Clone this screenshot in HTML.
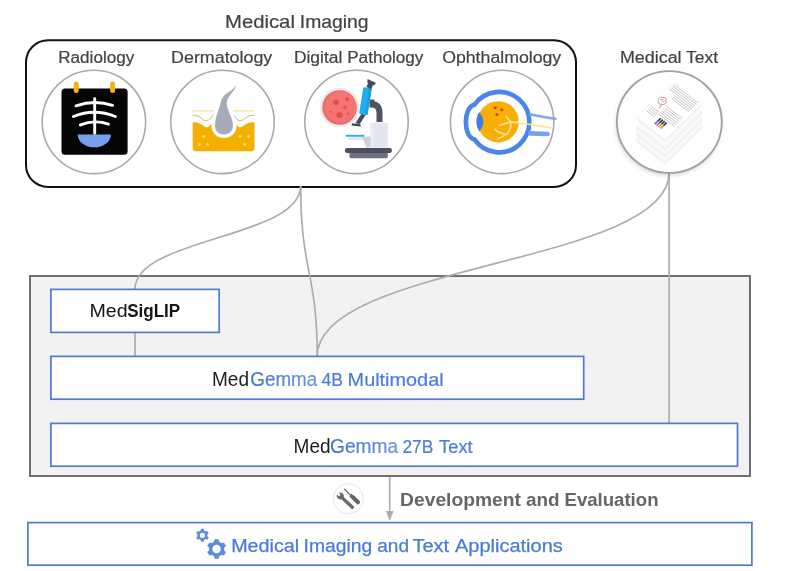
<!DOCTYPE html>
<html><head><meta charset="utf-8"><style>
html,body{margin:0;padding:0;background:#fff;width:796px;height:571px;overflow:hidden}
svg{display:block;will-change:transform}
text{font-family:"Liberation Sans",sans-serif}
</style></head><body>
<svg width="796" height="571" viewBox="0 0 796 571">
<defs>
<linearGradient id="gm1" gradientUnits="userSpaceOnUse" x1="251" y1="0" x2="318" y2="0"><stop offset="0" stop-color="#4670dc"/><stop offset="1" stop-color="#6e9bd6"/></linearGradient>
<linearGradient id="gm2" gradientUnits="userSpaceOnUse" x1="332" y1="0" x2="398" y2="0"><stop offset="0" stop-color="#4670dc"/><stop offset="1" stop-color="#6e9bd6"/></linearGradient>
<filter id="sh" x="-20%" y="-20%" width="140%" height="140%"><feGaussianBlur stdDeviation="2.2"/></filter>
</defs>
<!-- gray container -->
<rect x="30" y="276" width="720" height="200" fill="#f2f2f2" stroke="#686868" stroke-width="1.9"/>
<!-- big imaging box -->
<rect x="26" y="40.3" width="550" height="146.7" rx="22" ry="22" fill="none" stroke="#111" stroke-width="2"/>
<!-- connectors -->
<g fill="none" stroke="#adadad" stroke-width="1.7">
<path d="M300.7 186 C300.7 238 135 238 135 289"/>
<path d="M300.7 186 C300.7 272 317.2 272 317.2 356"/>
<path d="M669.1 173 C669.1 264 317.2 264 317.2 356"/>
<path d="M669.1 173 L669.1 423"/>
<path d="M135 333 L135 356"/>
<path d="M389.7 477 L389.7 513"/>
</g>
<path d="M385.8 511 L393.6 511 L389.7 521 Z" fill="#adadad"/>
<!-- blue boxes -->
<g fill="#fff" stroke="#5079d0" stroke-width="1.7">
<rect x="50.9" y="289.4" width="168.3" height="43"/>
<rect x="50.9" y="356.4" width="532.8" height="42.8"/>
<rect x="50.9" y="423.4" width="686.6" height="42.8"/>
<rect x="27.9" y="522.6" width="724" height="42.6"/>
</g>
<!-- circles -->
<g fill="#fff" stroke="#a9a9a9" stroke-width="1.6">
<circle cx="93.9" cy="121.9" r="51.7"/>
<circle cx="222.5" cy="121.9" r="51.7"/>
<circle cx="356.5" cy="121.9" r="51.7"/>
<circle cx="502.1" cy="121.9" r="51.7"/>
</g>
<ellipse cx="668.5" cy="124.5" rx="53" ry="51.5" fill="#000" opacity="0.13" filter="url(#sh)"/>
<ellipse cx="669.35" cy="122" rx="52.45" ry="50.9" fill="#fefefe" stroke="#a2a2a2" stroke-width="1.9"/>
<circle cx="348.3" cy="498.6" r="15" fill="#fff" stroke="#e6e6e6" stroke-width="1"/>

<!-- radiology icon -->
<g>
<rect x="61.5" y="88.5" width="66.1" height="66.2" rx="3.5" fill="#050505"/>
<rect x="73.7" y="81.5" width="5" height="11.5" rx="2.5" fill="#f2b10e"/>
<rect x="110.1" y="81.5" width="5" height="11.5" rx="2.5" fill="#f2b10e"/>
<path d="M77.7 134.4 L110.9 134.4 C110.9 142 103 147.3 94.3 147.3 C85.6 147.3 77.7 142 77.7 134.4 Z" fill="#76a1ee"/>
<g fill="none" stroke="#fff" stroke-width="2.9" stroke-linecap="round">
<path d="M94.7 98.8 L94.7 133.3"/>
<path d="M76 105.8 Q94.5 99.6 112.6 105.3"/>
<path d="M73.4 116.5 Q94.5 108 115.4 116.5"/>
<path d="M80.4 124.9 Q94.5 119.3 108.4 124.2"/>
</g>
</g>

<!-- dermatology icon -->
<g>
<path d="M192.7 122.4 Q199 122 205.3 127.1 Q208 128 211 124.5 L236 124.5 Q239 128 241.5 127.1 Q247.5 122 254.5 122.4 L254.5 148 Q254.5 151.2 251.3 151.2 L195.9 151.2 Q192.7 151.2 192.7 148 Z" fill="#f4b000"/>
<path d="M192.6 110.8 L214 110.8 M233 110.8 L254.6 110.8" stroke="#f0e2a4" stroke-width="1.2" fill="none"/>
<path d="M192.6 115.4 Q198 114.5 204.1 120.4 Q208.5 122.5 213.6 114.2 M233 114.2 Q238 122.5 242.5 120.4 Q248.5 114.5 254.6 115.4" stroke="#cfbb5a" stroke-width="1" fill="none"/>
<path d="M235.5 85 C234.5 88.5 231 90.5 228 92.5 C224 95 221.5 98 220.5 103 C219 110 215 117 215 126 C215 131 219 134.5 224 134.5 C229 134.5 233 131 233 126 C233 118 227.3 111 226.8 104 C226.6 99 230 95 233 91.5 C234.8 89.5 235.8 87 235.5 85 Z" fill="#a8acb9" stroke="#fff" stroke-width="7" stroke-linejoin="round" paint-order="stroke"/>
<g fill="#fbd877">
<circle cx="203.7" cy="136.6" r="1.5"/><circle cx="199.3" cy="144.5" r="1.5"/><circle cx="207.7" cy="144.5" r="1.5"/>
<circle cx="240.2" cy="136.6" r="1.5"/><circle cx="248.6" cy="136.6" r="1.5"/><circle cx="244.6" cy="144.5" r="1.5"/>
</g>
</g>

<!-- pathology icon -->
<g>
<circle cx="339.6" cy="107.5" r="19.8" fill="#e4eaee"/>
<circle cx="339.6" cy="107.5" r="17.3" fill="#ef6868"/>
<circle cx="340.4" cy="106.8" r="15.8" fill="#f37472"/>
<g fill="#e04f52">
<circle cx="336" cy="102.4" r="2.8"/><circle cx="347.2" cy="98.9" r="2"/><circle cx="345.1" cy="107.3" r="1.8"/>
<circle cx="339.5" cy="115" r="3"/><circle cx="348.3" cy="113.6" r="1.2"/><circle cx="330.4" cy="111.5" r="1"/>
</g>
<!-- body -->
<rect x="370.6" y="122.8" width="17.2" height="24.8" fill="#e4e5f1"/>
<rect x="370.6" y="122.8" width="3" height="24.8" fill="#eaebf5"/>
<path d="M361.8 136.6 L370.6 136.6 L370.6 147.5 L366.4 147.5 Z" fill="#cfd0da"/>
<rect x="348.2" y="136.6" width="14" height="3.5" fill="#e6e7ee"/>
<rect x="345.8" y="134.8" width="18.5" height="1.9" fill="#29b0e8"/>
<!-- base -->
<path d="M349.5 152 L387.8 152 L387.8 156.7 Q387.8 158.2 386.3 158.2 L351 158.2 Q349.5 158.2 349.5 156.7 Z" fill="#6d7080"/>
<rect x="344.9" y="148" width="47" height="4.9" rx="2.2" fill="#4b4f5e"/>
<!-- arm -->
<rect x="369.5" y="99.5" width="5" height="8" fill="#4d5160"/>
<path d="M371 104 Q379.5 104 379.5 113 L379.5 122" fill="none" stroke="#50535f" stroke-width="6"/>
<!-- objective -->
<path d="M361.6 113.5 L365.6 115 L359.5 124.5 L355.5 123 Z" fill="#494d5a"/>
<path d="M352 123.2 L360.8 124.6 L360.3 126.6 L351.6 125.4 Z" fill="#3e4250"/>
<!-- tube -->
<g transform="rotate(9 365.4 101.2)">
<rect x="361.2" y="87.6" width="8.4" height="27" rx="1.2" fill="#1eaef0"/>
<rect x="367.3" y="87.6" width="2.3" height="27" fill="#1a9ddc"/>
</g>
<g transform="rotate(24 370.5 84)">
<rect x="368" y="83" width="5.2" height="5.5" fill="#474b57"/>
<path d="M365.8 80.7 L375.2 80.7 L374 84 L367 84 Z" fill="#474b57"/>
</g>
</g>

<!-- ophthalmology icon -->
<g>
<circle cx="498.2" cy="121.8" r="20.6" fill="#f8ae06"/>
<path d="M479.3 112 Q487.5 121.8 479.3 131.6 Q476.4 127.5 476.4 121.8 Q476.4 116 479.3 112 Z" fill="#437be0"/>
<path d="M474.4 104.8 A30.2 30.2 0 1 1 474.4 139.4 C463 137 463 107.2 474.4 104.8 Z" fill="none" stroke="#4a86e8" stroke-width="4.6"/>
<path d="M530 114.3 Q545 117.5 555.4 118.8" fill="none" stroke="#7ea6ea" stroke-width="2.6" stroke-linecap="round"/>
<path d="M530 133.4 L547.5 134" fill="none" stroke="#7aa3ec" stroke-width="4.7" stroke-linecap="round"/>
<g fill="none" stroke="#fbe38f" stroke-width="1.6" stroke-linecap="round">
<path d="M510.9 122.2 Q531 124 550.8 127.8"/>
<path d="M510.9 122.2 L518.6 121.8"/>
<path d="M510.9 122.2 Q508 119 506 116.2"/>
<path d="M510.9 122.2 Q505 123 499.7 125.3"/>
<path d="M510.9 122.2 Q511 129 508.8 131.6 Q506.5 135 498.3 138.6"/>
<path d="M494.8 129.2 Q499 133.5 507.4 134.4"/>
</g>
<g fill="#c94c16">
<circle cx="495.2" cy="107.8" r="1.5"/><circle cx="501.8" cy="109.8" r="1.5"/><circle cx="496.9" cy="114.5" r="1.5"/>
</g>
</g>

<!-- medical text icon -->
<g>
<polygon points="673.3,103.5 701.8,125.5 701.8,128.5 665.2,164.4 636.7,142.4 636.7,139.4" fill="#f3f3f3" stroke="#efefef" stroke-width="0.5"/>
<polygon points="673.3,103.5 701.8,125.5 665.2,161.4 636.7,139.4" fill="#fafafa" stroke="#f1f1f1" stroke-width="0.4"/>
<polygon points="673.3,96.5 701.8,118.5 701.8,121.5 665.2,157.4 636.7,135.4 636.7,132.4" fill="#f3f3f3" stroke="#efefef" stroke-width="0.5"/>
<polygon points="673.3,96.5 701.8,118.5 665.2,154.4 636.7,132.4" fill="#fafafa" stroke="#f1f1f1" stroke-width="0.4"/>
<polygon points="673.3,89.5 701.8,111.5 701.8,114.5 665.2,150.4 636.7,128.4 636.7,125.4" fill="#f3f3f3" stroke="#efefef" stroke-width="0.5"/>
<polygon points="673.3,89.5 701.8,111.5 665.2,147.4 636.7,125.4" fill="#fafafa" stroke="#f1f1f1" stroke-width="0.4"/>
<polygon points="673.3,81.5 701.8,103.5 701.8,106.0 665.2,141.9 636.7,119.9 636.7,117.4" fill="#f2f2f2"/>
<polygon points="673.3,81.5 701.8,103.5 665.2,139.4 636.7,117.4" fill="#fff" stroke="#f0f0f0" stroke-width="0.5"/>
<path d="M673.9,84.4 L698.0,103.1 M672.4,85.9 L696.5,104.5 M670.9,87.4 L695.0,106.0 M669.4,88.8 L693.5,107.5 M674.6,95.5 L692.0,108.9 M673.1,97.0 L690.5,110.4 M671.6,98.4 L689.0,111.9 M666.5,106.2 L682.3,118.5 M664.9,107.8 L680.7,120.0 M663.3,109.3 L679.2,121.5 M661.7,110.9 L677.6,123.1 M660.2,112.4 L676.0,124.6 M658.6,113.9 L674.4,126.2 M651.4,106.5 L659.3,112.6 M649.9,107.9 L657.8,114.1 M648.4,109.4 L656.3,115.5 M646.9,110.9 L654.8,117.0" stroke="#959595" stroke-width="0.55" fill="none"/>
<g fill="none" stroke="#e58585" stroke-width="1"><path d="M658.3 101.5 C657.5 98 661 96.5 662.5 97.8 C664.5 96.5 667 98.5 665.8 100.8 C667 103 664 105.5 661.8 104.2 L659.2 108.3 M658.3 101.5 C658 103.5 660 104.8 661.8 104.2 M660.5 99.5 q1.5 1.2 3 0 M662.5 101.5 q1 1 2 0"/></g>
<path d="M660.8,118.2 L657.6,121.3" stroke="#2b2d3a" stroke-width="1.6"/>
<path d="M657.6,121.3 L654.8,124.1" stroke="#3f74c8" stroke-width="1.6"/>
<path d="M662.8,119.7 L659.5,122.8" stroke="#2b2d3a" stroke-width="1.6"/>
<path d="M659.5,122.8 L656.7,125.6" stroke="#8a6ec0" stroke-width="1.6"/>
<path d="M664.7,121.1 L661.5,124.3" stroke="#2b2d3a" stroke-width="1.6"/>
<path d="M661.5,124.3 L658.6,127.1" stroke="#e8923c" stroke-width="1.6"/>
<path d="M666.6,122.6 L663.4,125.8" stroke="#2b2d3a" stroke-width="1.6"/>
<path d="M663.4,125.8 L660.6,128.6" stroke="#e8923c" stroke-width="1.6"/>
</g>

<!-- gears -->
<path d="M200.77,530.57 L201.03,528.84 L203.77,528.84 L204.03,530.57 L204.47,530.75 L204.90,530.97 L205.30,531.23 L205.68,531.53 L207.30,530.88 L208.68,533.26 L207.31,534.35 L207.38,534.82 L207.40,535.30 L207.38,535.78 L207.31,536.25 L208.68,537.34 L207.30,539.72 L205.68,539.07 L205.30,539.37 L204.90,539.63 L204.47,539.85 L204.03,540.03 L203.77,541.76 L201.03,541.76 L200.77,540.03 L200.33,539.85 L199.90,539.63 L199.50,539.37 L199.12,539.07 L197.50,539.72 L196.12,537.34 L197.49,536.25 L197.42,535.78 L197.40,535.30 L197.42,534.82 L197.49,534.35 L196.12,533.26 L197.50,530.88 L199.12,531.53 L199.50,531.23 L199.90,530.97 L200.33,530.75 Z M205.00,535.30 A2.6,2.6 0 1 0 199.80,535.30 A2.6,2.6 0 1 0 205.00,535.30 Z M214.13,541.81 L214.54,539.32 L218.66,539.32 L219.07,541.81 L219.75,542.08 L220.40,542.42 L221.01,542.81 L221.59,543.26 L223.96,542.38 L226.02,545.94 L224.06,547.55 L224.17,548.27 L224.20,549.00 L224.17,549.73 L224.06,550.45 L226.02,552.06 L223.96,555.62 L221.59,554.74 L221.01,555.19 L220.40,555.58 L219.75,555.92 L219.07,556.19 L218.66,558.68 L214.54,558.68 L214.13,556.19 L213.45,555.92 L212.80,555.58 L212.19,555.19 L211.61,554.74 L209.24,555.62 L207.18,552.06 L209.14,550.45 L209.03,549.73 L209.00,549.00 L209.03,548.27 L209.14,547.55 L207.18,545.94 L209.24,542.38 L211.61,543.26 L212.19,542.81 L212.80,542.42 L213.45,542.08 Z M220.80,549.00 A4.2,4.2 0 1 0 212.40,549.00 A4.2,4.2 0 1 0 220.80,549.00 Z" fill="#5e8cdb" fill-rule="evenodd"/>
<!-- tools -->
<g transform="translate(340.3,496) rotate(43)" fill="#6a6a6a">
<circle cx="0" cy="0" r="3.4"/>
<rect x="1.5" y="-1.65" width="16.6" height="3.3" rx="1.6"/>
<rect x="-4.2" y="-1.25" width="3.6" height="2.5" fill="#fff"/>
</g>
<g transform="translate(344.3,489) rotate(44)" fill="#636363">
<rect x="0" y="-0.55" width="9.5" height="1.1"/>
<rect x="8.5" y="-1.7" width="2.5" height="3.4"/>
<rect x="10" y="-2.1" width="11" height="4.2" rx="2"/>
</g>
<!-- texts -->
<g fill="#424242" stroke="#424242" stroke-width="0.2">
<text x="225.0" y="27.85" font-size="18.5" textLength="69.9" lengthAdjust="spacingAndGlyphs">Medical</text>
<text x="299.8" y="27.85" font-size="18.5" textLength="68.8" lengthAdjust="spacingAndGlyphs">Imaging</text>
<text x="58.3" y="63.2" font-size="16" textLength="75.9" lengthAdjust="spacingAndGlyphs">Radiology</text>
<text x="171.1" y="63.2" font-size="16" textLength="101.2" lengthAdjust="spacingAndGlyphs">Dermatology</text>
<text x="293.9" y="63.2" font-size="16" textLength="48.4" lengthAdjust="spacingAndGlyphs">Digital</text>
<text x="347.2" y="63.2" font-size="16" textLength="76.2" lengthAdjust="spacingAndGlyphs">Pathology</text>
<text x="442.2" y="63.2" font-size="16" textLength="119.0" lengthAdjust="spacingAndGlyphs">Ophthalmology</text>
<text x="619.9" y="63.2" font-size="16" textLength="61.7" lengthAdjust="spacingAndGlyphs">Medical</text>
<text x="686.1" y="63.2" font-size="16" textLength="31.9" lengthAdjust="spacingAndGlyphs">Text</text>
</g>
<text x="89.4" y="317.4" font-size="18" fill="#151515" textLength="38.2" lengthAdjust="spacingAndGlyphs">Med</text>
<text x="127.2" y="317.4" font-size="18" font-weight="bold" fill="#151515" textLength="53" lengthAdjust="spacingAndGlyphs">SigLIP</text>
<text x="212" y="386.2" font-size="19.5" fill="#1e1e1e" textLength="37" lengthAdjust="spacingAndGlyphs">Med</text>
<text x="250.3" y="386.2" font-size="19.5" fill="url(#gm1)" stroke="url(#gm1)" stroke-width="0.2" textLength="67" lengthAdjust="spacingAndGlyphs">Gemma</text>
<text x="321.6" y="386.2" font-size="19" fill="#4a7cdc" stroke="#4a7cdc" stroke-width="0.2" textLength="21.5" lengthAdjust="spacingAndGlyphs">4B</text>
<text x="347.6" y="386.2" font-size="19" fill="#4a7cdc" stroke="#4a7cdc" stroke-width="0.2" textLength="96" lengthAdjust="spacingAndGlyphs">Multimodal</text>
<text x="293.6" y="453.4" font-size="19.5" fill="#1e1e1e" textLength="37" lengthAdjust="spacingAndGlyphs">Med</text>
<text x="330.1" y="453.4" font-size="19.5" fill="url(#gm2)" stroke="url(#gm2)" stroke-width="0.2" textLength="68" lengthAdjust="spacingAndGlyphs">Gemma</text>
<text x="402.4" y="453.4" font-size="19" fill="#4a7cdc" stroke="#4a7cdc" stroke-width="0.2" textLength="31" lengthAdjust="spacingAndGlyphs">27B</text>
<text x="439.1" y="453.4" font-size="19" fill="#4a7cdc" stroke="#4a7cdc" stroke-width="0.2" textLength="33.5" lengthAdjust="spacingAndGlyphs">Text</text>
<text x="400.1" y="505.8" font-size="18.5" font-weight="bold" fill="#666" textLength="120.8" lengthAdjust="spacingAndGlyphs">Development</text>
<text x="526.0" y="505.8" font-size="18.5" font-weight="bold" fill="#666" textLength="33.6" lengthAdjust="spacingAndGlyphs">and</text>
<text x="564.5" y="505.8" font-size="18.5" font-weight="bold" fill="#666" textLength="94.0" lengthAdjust="spacingAndGlyphs">Evaluation</text>
<text x="231.2" y="551.6" font-size="17.6" fill="#4a7bd8" stroke="#4a7bd8" stroke-width="0.25" textLength="68.0" lengthAdjust="spacingAndGlyphs">Medical</text>
<text x="303.6" y="551.6" font-size="17.6" fill="#4a7bd8" stroke="#4a7bd8" stroke-width="0.25" textLength="68.5" lengthAdjust="spacingAndGlyphs">Imaging</text>
<text x="377.2" y="551.6" font-size="17.6" fill="#4a7bd8" stroke="#4a7bd8" stroke-width="0.25" textLength="31.8" lengthAdjust="spacingAndGlyphs">and</text>
<text x="412.4" y="551.6" font-size="17.6" fill="#4a7bd8" stroke="#4a7bd8" stroke-width="0.25" textLength="36.8" lengthAdjust="spacingAndGlyphs">Text</text>
<text x="455.0" y="551.6" font-size="17.6" fill="#4a7bd8" stroke="#4a7bd8" stroke-width="0.25" textLength="107.8" lengthAdjust="spacingAndGlyphs">Applications</text>
</svg>
</body></html>
